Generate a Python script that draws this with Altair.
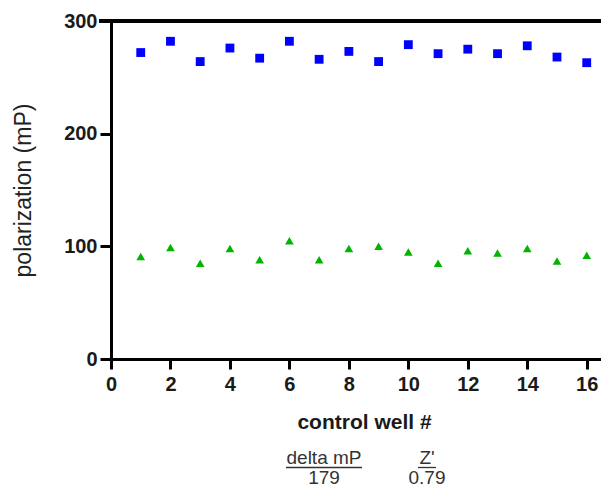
import altair as alt
import pandas as pd

wells = list(range(1, 17))
high_mp = [272, 282, 264, 276, 267, 282, 266, 273, 264, 279, 271, 275, 271, 278, 268, 263]
low_mp = [91, 99, 85, 98, 88, 105, 88, 98, 100, 95, 85, 96, 94, 98, 87, 92]
x_ticks = [0, 2, 4, 6, 8, 10, 12, 14, 16]
y_ticks = [0, 100, 200, 300]
stat_names = ["delta mP", "Z'"]
stat_values = ["179", "0.79"]

FONT = "Liberation Sans, Arial, Helvetica, sans-serif"
W, H = 490, 338
X_MAX = 16.48

df = pd.DataFrame({"well": wells, "high": high_mp, "low": low_mp})

x_enc = alt.X(
    "well:Q",
    scale=alt.Scale(domain=[0, X_MAX], nice=False, zero=True),
    axis=alt.Axis(
        values=x_ticks, title="control well #", titleFontSize=21, titleFontWeight="bold",
        titlePadding=17, titleX=253, labelFontSize=20, labelFontWeight="bold", labelPadding=5,
        tickSize=10, tickWidth=3, domainWidth=3, domainColor="black", tickColor="black",
        labelColor="#1a1a1a", titleColor="#1a1a1a", grid=False, labelFlush=False,
    ),
)
y_axis = alt.Axis(
    values=y_ticks, title="polarization (mP)", titleFontSize=23, titleFontWeight="normal",
    titlePadding=28, labelFontSize=20, labelFontWeight="bold", labelPadding=3,
    tickSize=11, tickWidth=3, domainWidth=3, domainColor="black", tickColor="black",
    labelColor="#1a1a1a", titleColor="#222222", grid=False,
)
y_scale = alt.Scale(domain=[0, 300], nice=False)

high = alt.Chart(df).mark_point(shape="square", filled=True, size=78, color="#0000FF", opacity=1).encode(
    x=x_enc, y=alt.Y("high:Q", scale=y_scale, axis=y_axis)
)
low = alt.Chart(df).mark_point(shape="triangle-up", filled=True, size=75, color="#00B400", opacity=1).encode(
    x="well:Q", y=alt.Y("low:Q")
)
top_line = alt.Chart(pd.DataFrame({"y": [300]})).mark_rule(color="black", strokeWidth=4).encode(
    y="y:Q", x=alt.value(-12), x2=alt.value(W)
)

stats = pd.DataFrame({"name": stat_names, "value": stat_values, "cx": [213, 316], "ul0": [175, 307], "ul1": [251, 325]})
name_text = alt.Chart(stats).mark_text(fontSize=19, font=FONT, color="#333333", baseline="alphabetic", align="center").encode(
    x=alt.X("cx:Q", scale=None), y=alt.value(443), text="name:N"
)
value_text = alt.Chart(stats).mark_text(fontSize=19, font=FONT, color="#333333", baseline="alphabetic", align="center").encode(
    x=alt.X("cx:Q", scale=None), y=alt.value(463), text="value:N"
)
underline = alt.Chart(stats).mark_rule(color="#333333", strokeWidth=1.3).encode(
    x=alt.X("ul0:Q", scale=None), x2="ul1:Q", y=alt.value(446.5)
)

chart = alt.layer(high, low, top_line, name_text, value_text, underline).properties(
    width=W, height=H,
    autosize=alt.AutoSizeParams(type="none"),
    padding={"left": 103, "top": 13, "right": 0, "bottom": 129},
).configure_view(stroke=None).configure(font=FONT)

chart.save("out.html", embed_options={"renderer": "svg", "actions": False})
